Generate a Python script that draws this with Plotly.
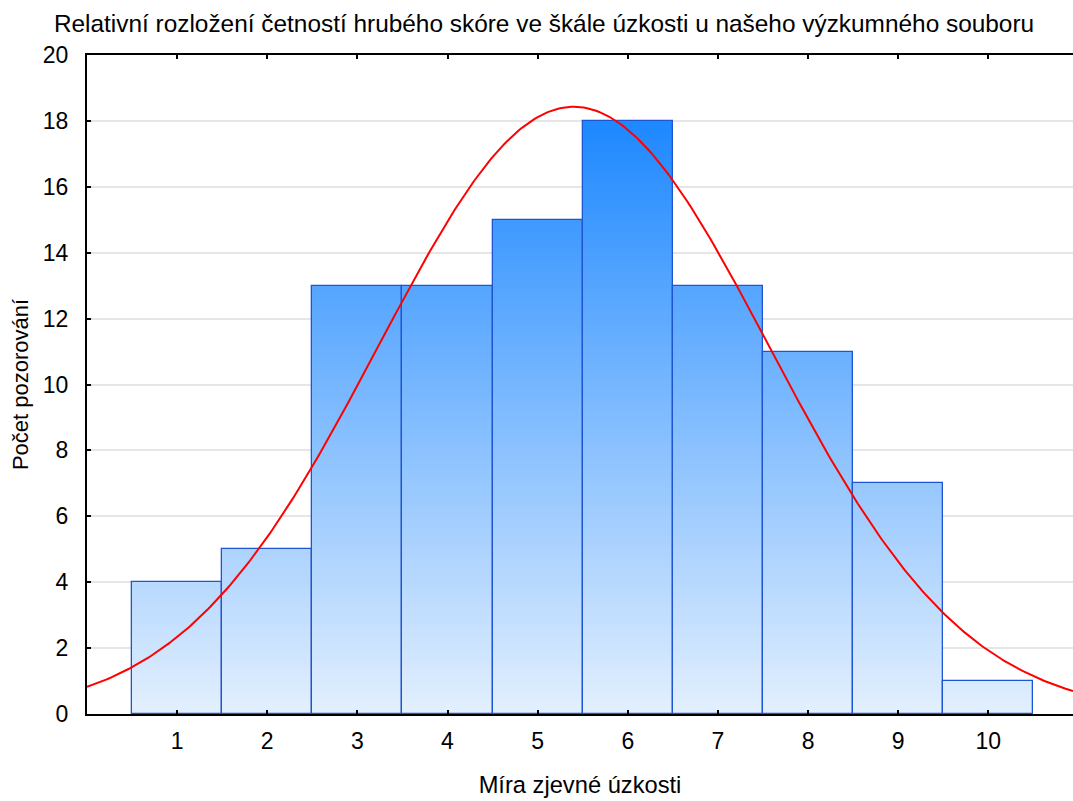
import numpy as np
import plotly.graph_objects as go

# ---- data ----
scores = [1, 2, 3, 4, 5, 6, 7, 8, 9, 10]
counts = [4, 5, 13, 13, 15, 18, 13, 11, 7, 1]
title_text = "Relativní rozložení četností hrubého skóre ve škále úzkosti u našeho výzkumného souboru"
x_title = "Míra zjevné úzkosti"
y_title = "Počet pozorování"
y_ticks = list(range(0, 21, 2))

# ---- style ----
FONT = "Arial, 'Liberation Sans', sans-serif"
TOP_RGB = np.array([30, 136, 255])
BOT_RGB = np.array([228, 240, 254])
GRAD_TOP = 18.0
X_MAX = 10.94

fig = go.Figure()

# gradient fill built from overlapping bars (colour depends on height)
step = 0.1
n_levels = int(round(max(counts) / step))
for k in range(n_levels, 0, -1):
    level = k * step
    t = min(level / GRAD_TOP, 1.0)
    rgb = BOT_RGB + (TOP_RGB - BOT_RGB) * t
    col = "rgb(%d,%d,%d)" % tuple(np.round(rgb).astype(int))
    ys = [min(c, level) for c in counts]
    fig.add_trace(go.Bar(x=scores, y=ys, width=1.0, marker=dict(color=col, line=dict(width=0)),
                         hoverinfo="skip", showlegend=False))

# bar outlines
fig.add_trace(go.Bar(x=scores, y=counts, width=1.0,
                     marker=dict(color="rgba(0,0,0,0)", line=dict(color="rgb(30,85,210)", width=1.3)),
                     hoverinfo="skip", showlegend=False))

# fitted normal curve (from the counts)
vals = np.repeat(scores, counts)
mu = vals.mean()
sd = vals.std(ddof=1)
N = len(vals)
xc = np.linspace(0, X_MAX, 400)
yc = N * 1.0 * np.exp(-0.5 * ((xc - mu) / sd) ** 2) / (sd * np.sqrt(2 * np.pi))
fig.add_trace(go.Scatter(x=xc, y=yc, mode="lines", line=dict(color="rgb(255,0,0)", width=2),
                         hoverinfo="skip", showlegend=False))

fig.update_layout(
    width=1073, height=801,
    margin=dict(l=87, r=0, t=55, b=87),
    paper_bgcolor="white", plot_bgcolor="white",
    barmode="overlay", bargap=0,
    font=dict(family=FONT, size=23, color="black"),
    title=dict(text=title_text, x=544 / 1073, xref="container", xanchor="center",
               y=1 - 23 / 801, yref="container", yanchor="middle",
               font=dict(family=FONT, size=24.4, color="black")),
    xaxis=dict(range=[0, X_MAX], tickmode="array", tickvals=scores, ticktext=[str(s) for s in scores],
               ticks="inside", ticklen=4, tickwidth=1.5, tickcolor="black",
               showline=True, linecolor="black", linewidth=2, mirror="ticks",
               showgrid=False, zeroline=False, ticklabelstandoff=5,
               tickfont=dict(size=23),
               title=dict(text=x_title, standoff=24, font=dict(size=23.7))),
    yaxis=dict(range=[0, 20], tickmode="array", tickvals=y_ticks,
               ticks="inside", ticklen=4, tickwidth=1.5, tickcolor="black",
               showline=True, linecolor="black", linewidth=2, mirror=False,
               showgrid=True, gridcolor="#e6e6e6", gridwidth=1.5, zeroline=False,
               ticklabelstandoff=12, tickfont=dict(size=23),
               title=dict(text=y_title, standoff=8, font=dict(size=22))),
)

fig.write_html("out.html")
